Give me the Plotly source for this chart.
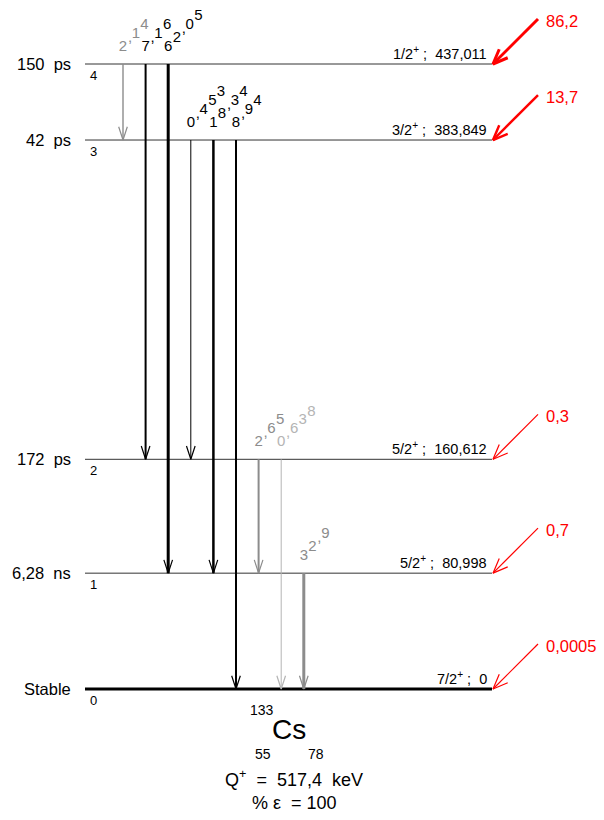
import math
import plotly.graph_objects as go

# level scheme of 133Cs (fed by EC decay)
level_energy = [0, 80.998, 160.612, 383.849, 437.011]
level_spin = ["7/2", "5/2", "5/2", "3/2", "1/2"]
level_parity = ["+", "+", "+", "+", "+"]
level_label = ["0", "80,998", "160,612", "383,849", "437,011"]
level_halflife = ["Stable", "6,28  ns", "172  ps", "42  ps", "150  ps"]
level_feeding = ["0,0005", "0,7", "0,3", "13,7", "86,2"]

# gamma transitions (from level -> to level, intensity %)
gamma_from = [4, 4, 4, 3, 3, 3, 2, 2, 1]
gamma_to = [3, 2, 1, 2, 1, 0, 1, 0, 0]
gamma_intensity = ["2,14", "7,16", "62,05", "0,453", "18,34", "8,94", "2,65", "0,638", "32,9"]

nucleus_a, nucleus_z, nucleus_n, nucleus_sym = "133", "55", "78", "Cs"
q_value = "517,4"
ec_percent = "100"

# styles (kept apart from the data)
GREY, LIGHT, BLACK, RED = "#8c8c8c", "#b4b4b4", "#000000", "#ff0000"
gamma_color = [GREY, BLACK, BLACK, BLACK, BLACK, BLACK, GREY, LIGHT, GREY]
gamma_width = [1.4, 2, 3, 1, 2.5, 2, 2, 1, 3]
feed_width = [1.2, 1.2, 1.2, 2.5, 3]
FONT = "Liberation Sans, Arial, sans-serif"

W, H = 604, 820
OFF = 8            # page body margin
Y0_PX = 689
PX = 625 / 437.011  # pixels per keV
X_LEFT, X_RIGHT = 85, 492
X_FIRST, X_STEP = 123, 22.6
DX, DY = 8.6, 8.7   # diagonal step per digit
LBL_UP = 17         # first digit height above its level


def ey(px):
    # pixel offset -> keV offset (pixels measured downward)
    return -px / PX


def head(x, y, dx, dy, length=13, half=20):
    # open V arrow head at (x, y) pointing along (dx, dy) in pixel space
    n = math.hypot(dx, dy)
    ux, uy = -dx / n, -dy / n
    pts = []
    for a in (half, -half):
        r = math.radians(a)
        hx = ux * math.cos(r) - uy * math.sin(r)
        hy = ux * math.sin(r) + uy * math.cos(r)
        pts.append((x + hx * length, y + ey(hy * length)))
    return [pts[0][0], x, pts[1][0], None], [pts[0][1], y, pts[1][1], None]


fig = go.Figure()
ann = []

# levels
for i, e in enumerate(level_energy):
    fig.add_trace(go.Scatter(
        x=[X_LEFT, X_RIGHT], y=[e, e], mode="lines",
        line=dict(color=BLACK if i == 0 else "#333333", width=3 if i == 0 else 1),
        hoverinfo="skip", showlegend=False))
    ann.append(dict(x=73, y=e, text=level_halflife[i], xanchor="right", font=dict(size=16.5)))
    ann.append(dict(x=93, y=e + ey(11), text=str(i), font=dict(size=13)))
    ann.append(dict(x=489, y=e + ey(-11),
                    text=f"{level_spin[i]}<sup>{level_parity[i]}</sup> ;  {level_label[i]}",
                    xanchor="right", font=dict(size=14.5)))

# feeding arrows (drawn on top of the level lines)
for i, e in enumerate(level_energy):
    tx, ty = X_RIGHT + 1, e
    sx, sy = tx + 45, e + ey(-45)
    hx, hy = head(tx, ty, -45, 45, length=16, half=22)
    fig.add_trace(go.Scatter(x=[sx, tx, None] + hx, y=[sy, ty, None] + hy, mode="lines",
                             line=dict(color=RED, width=feed_width[i]),
                             hoverinfo="skip", showlegend=False))
    ann.append(dict(x=544, y=e + ey(-43), text=level_feeding[i], xanchor="left",
                    font=dict(size=16.5, color=RED)))

# gamma transitions
for k in range(len(gamma_from)):
    x = X_FIRST + k * X_STEP
    e1, e2 = level_energy[gamma_from[k]], level_energy[gamma_to[k]]
    c = gamma_color[k]
    fig.add_trace(go.Scatter(x=[x, x], y=[e1, e2], mode="lines",
                             line=dict(color=c, width=gamma_width[k]),
                             hoverinfo="skip", showlegend=False))
    hx, hy = head(x, e2, 0, 1, length=14, half=18)
    fig.add_trace(go.Scatter(x=hx, y=hy, mode="lines", line=dict(color=c, width=1.2),
                             hoverinfo="skip", showlegend=False))
    # intensity written as upright characters climbing diagonally
    cx, cy, pos = [], [], 0.0
    for ch in gamma_intensity[k]:
        if ch == ",":
            # sits just right of, and a little above, the previous digit
            base = pos - 1.0
            cx.append(x + base * DX + 7)
            cy.append(e1 + ey(-LBL_UP - base * DY - 9))
            pos += 0.5
        else:
            cx.append(x + pos * DX)
            cy.append(e1 + ey(-LBL_UP - pos * DY))
            pos += 1.0
    fig.add_trace(go.Scatter(x=cx, y=cy, mode="text", text=list(gamma_intensity[k]),
                             textposition="middle center",
                             textfont=dict(size=15, color=c, family=FONT),
                             hoverinfo="skip", showlegend=False))

# nucleus and decay data
ann += [
    dict(x=262, y=ey(21), text=nucleus_a, font=dict(size=14)),
    dict(x=289, y=ey(40), text=nucleus_sym, font=dict(size=28)),
    dict(x=263, y=ey(65), text=nucleus_z, font=dict(size=14)),
    dict(x=316, y=ey(65), text=nucleus_n, font=dict(size=14)),
    dict(x=294, y=ey(89), text=f"Q<sup>+</sup>  =  {q_value}  keV", font=dict(size=18)),
    dict(x=294, y=ey(114), text=f"% \u03b5  = {ec_percent}", font=dict(size=18)),
]

for a in ann:
    a.setdefault("showarrow", False)
    a.setdefault("xref", "x")
    a.setdefault("yref", "y")
    a.setdefault("xanchor", "center")
    a.setdefault("yanchor", "middle")

fig.update_layout(
    width=W, height=H,
    margin=dict(l=0, r=0, t=0, b=0),
    paper_bgcolor="white", plot_bgcolor="white",
    font=dict(family=FONT, color="black"),
    xaxis=dict(range=[OFF, W + OFF], visible=False, fixedrange=True),
    yaxis=dict(range=[(Y0_PX - H - OFF) / PX, (Y0_PX - OFF) / PX], visible=False, fixedrange=True),
    annotations=ann,
    showlegend=False,
)

fig.write_html("out.html")
